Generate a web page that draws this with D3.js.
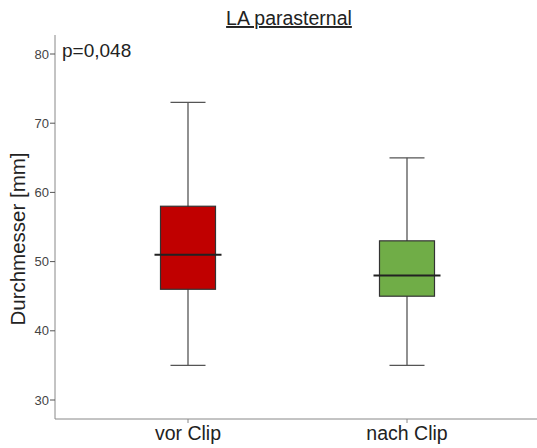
<!DOCTYPE html>
<html>
<head>
<meta charset="utf-8">
<script src="https://cdn.jsdelivr.net/npm/d3@7"></script>
<style>
  body { margin: 0; background: #fff; }
  svg { font-family: Arial, "Liberation Sans", sans-serif; }
</style>
</head>
<body>
<svg id="chart"></svg>
<script>
const groups = ["vor Clip", "nach Clip"];
const mins = [35, 35];
const q1s = [46, 45];
const medians = [51, 48];
const q3s = [58, 53];
const maxs = [73, 65];
const colors = ["#c00000", "#70ad47"];
const yTicks = [30, 40, 50, 60, 70, 80];

const width = 537, height = 448;
const svg = d3.select("#chart").attr("width", width).attr("height", height);

const axisX = 55, axisBottom = 419, axisTop = 35;

const y = d3.scaleLinear().domain([30, 80]).range([400, 54]);
const x = d3.scalePoint().domain(groups).range([78.5, 516.5]).padding(0.5);

// axes lines
svg.append("line")
    .attr("x1", axisX).attr("x2", axisX)
    .attr("y1", axisTop).attr("y2", axisBottom)
    .attr("stroke", "#888").attr("stroke-width", 1);
svg.append("line")
    .attr("x1", axisX).attr("x2", width)
    .attr("y1", axisBottom).attr("y2", axisBottom)
    .attr("stroke", "#888").attr("stroke-width", 1);

// y ticks
const yt = svg.selectAll(".ytick").data(yTicks).enter().append("g");
yt.append("line")
    .attr("x1", axisX - 5).attr("x2", axisX)
    .attr("y1", d => y(d)).attr("y2", d => y(d))
    .attr("stroke", "#555");
yt.append("text")
    .attr("x", axisX - 6).attr("y", d => y(d) + 4.5)
    .attr("text-anchor", "end")
    .attr("font-size", 13).attr("fill", "#444")
    .text(d => d);

// x ticks
groups.forEach(g => {
    svg.append("line")
        .attr("x1", x(g)).attr("x2", x(g))
        .attr("y1", axisBottom).attr("y2", axisBottom + 4)
        .attr("stroke", "#888");
    svg.append("text")
        .attr("x", x(g)).attr("y", 440)
        .attr("text-anchor", "middle")
        .attr("font-size", 19.5).attr("fill", "#222")
        .text(g);
});

// boxes
const boxW = 55, capW = 35, medW = 67;
groups.forEach((g, i) => {
    const cx = x(g);
    svg.append("line")
        .attr("x1", cx).attr("x2", cx)
        .attr("y1", y(maxs[i])).attr("y2", y(mins[i]))
        .attr("stroke", "#555").attr("stroke-width", 1.3);
    [mins[i], maxs[i]].forEach(v => {
        svg.append("line")
            .attr("x1", cx - capW / 2).attr("x2", cx + capW / 2)
            .attr("y1", y(v)).attr("y2", y(v))
            .attr("stroke", "#555").attr("stroke-width", 1.3);
    });
    svg.append("rect")
        .attr("x", cx - boxW / 2).attr("width", boxW)
        .attr("y", y(q3s[i])).attr("height", y(q1s[i]) - y(q3s[i]))
        .attr("fill", colors[i])
        .attr("stroke", "#333").attr("stroke-width", 1.2);
    svg.append("line")
        .attr("x1", cx - medW / 2).attr("x2", cx + medW / 2)
        .attr("y1", y(medians[i])).attr("y2", y(medians[i]))
        .attr("stroke", "#222").attr("stroke-width", 2);
});

// title
svg.append("text")
    .attr("x", 289).attr("y", 25)
    .attr("text-anchor", "middle")
    .attr("font-size", 19.5).attr("fill", "#222")
    .attr("text-decoration", "underline")
    .text("LA parasternal");

// y label
svg.append("text")
    .attr("transform", "translate(25,239) rotate(-90)")
    .attr("text-anchor", "middle")
    .attr("font-size", 20.5).attr("fill", "#222")
    .text("Durchmesser [mm]");

// p value
svg.append("text")
    .attr("x", 62).attr("y", 57)
    .attr("font-size", 19).attr("fill", "#222")
    .text("p=0,048");
</script>
</body>
</html>
